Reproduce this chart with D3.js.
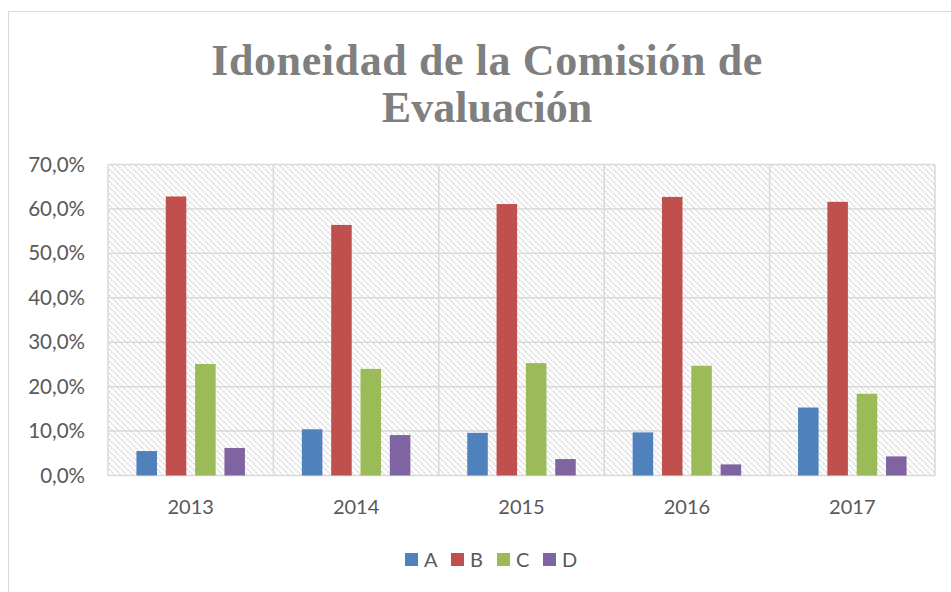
<!DOCTYPE html>
<html>
<head>
<meta charset="utf-8">
<script src="https://cdn.jsdelivr.net/npm/d3@7"></script>
<style>
body{margin:0;background:#fff;}
</style>
</head>
<body>
<script>
var years = ['2013','2014','2015','2016','2017'];
var seriesNames = ['A','B','C','D'];
var valuesA = [5.5, 10.4, 9.6, 9.7, 15.3];
var valuesB = [62.8, 56.4, 61.1, 62.7, 61.6];
var valuesC = [25.1, 24.0, 25.3, 24.7, 18.4];
var valuesD = [6.2, 9.1, 3.7, 2.5, 4.3];
var yTicks = [0,10,20,30,40,50,60,70];
var colors = ['#4f81bd','#c0504d','#9bbb59','#8064a2'];

var allValues = [valuesA, valuesB, valuesC, valuesD];

var svg = d3.select("body").append("svg").attr("width",951).attr("height",592);

var defs = svg.append("defs");
var pat = defs.append("pattern")
  .attr("id","hatch")
  .attr("patternUnits","userSpaceOnUse")
  .attr("width",6).attr("height",6);
pat.append("rect").attr("width",6).attr("height",6).attr("fill","#fff");
pat.append("path")
  .attr("d","M-1,-1 L7,7 M-1,5 L1,7 M5,-1 L7,1")
  .attr("stroke","#d6d6d6")
  .attr("stroke-width",1.5)
  .attr("stroke-dasharray","2,1");

// chart frame
svg.append("rect")
  .attr("x",8.5).attr("y",11.5)
  .attr("width",980).attr("height",620)
  .attr("fill","#fff")
  .attr("stroke","#d9d9d9");

var plotLeft = 108, plotRight = 935, plotTop = 164.5, plotBottom = 475.5;

var x = d3.scaleBand().domain(years).range([plotLeft,plotRight]);
var xs = d3.scaleBand().domain(seriesNames).range([0, x.bandwidth()])
  .paddingInner(0.3).paddingOuter(0.97);
var y = d3.scaleLinear().domain([0,70]).range([plotBottom,plotTop]);

// title
var title = svg.append("text")
  .attr("text-anchor","middle")
  .attr("fill","#7f7f7f")
  .attr("font-family","'Liberation Serif', serif")
  .attr("font-weight","bold")
  .attr("font-size",44);
title.append("tspan").attr("x",487).attr("y",75).attr("letter-spacing",0.6).text("Idoneidad de la Comisión de");
title.append("tspan").attr("x",487).attr("y",122).text("Evaluación");

// plot background
svg.append("rect")
  .attr("x",plotLeft).attr("y",plotTop)
  .attr("width",plotRight-plotLeft).attr("height",plotBottom-plotTop)
  .attr("fill","url(#hatch)");

// horizontal gridlines
svg.append("g").selectAll("line")
  .data(yTicks)
  .enter().append("line")
    .attr("x1",plotLeft).attr("x2",plotRight)
    .attr("y1",function(d){ return y(d); })
    .attr("y2",function(d){ return y(d); })
    .attr("stroke","#d9d9d9")
    .attr("stroke-width",1.5);

// vertical category separators
var bounds = years.map(function(d){ return x(d); }).concat([plotRight]);
svg.append("g").selectAll("line")
  .data(bounds)
  .enter().append("line")
    .attr("x1",function(d){ return d; }).attr("x2",function(d){ return d; })
    .attr("y1",plotTop).attr("y2",plotBottom)
    .attr("stroke","#d9d9d9")
    .attr("stroke-width",1.5);

// bars
var groups = svg.append("g").selectAll("g")
  .data(seriesNames)
  .enter().append("g")
    .attr("fill",function(d,i){ return colors[i]; });

groups.selectAll("rect")
  .data(function(d,i){ return allValues[i].map(function(v,j){ return {s:d, year:years[j], v:v}; }); })
  .enter().append("rect")
    .attr("x",function(d){ return x(d.year) + xs(d.s); })
    .attr("width",xs.bandwidth())
    .attr("y",function(d){ return y(d.v); })
    .attr("height",function(d){ return plotBottom - y(d.v); });

// axes
var yAxis = d3.axisLeft(y).tickValues(yTicks).tickSize(0).tickPadding(0)
  .tickFormat(function(d){ return d3.format(".1f")(d).replace(".",",") + "%"; });
var gy = svg.append("g").attr("transform","translate(85,0)").call(yAxis);
gy.select(".domain").remove();
gy.selectAll("text")
  .attr("fill","#595959")
  .attr("font-family","Lato, sans-serif")
  .attr("font-size",20.5);

var xAxis = d3.axisBottom(x).tickSize(0).tickPadding(24);
var gx = svg.append("g").attr("transform","translate(0,"+plotBottom+")").call(xAxis);
gx.select(".domain").remove();
gx.selectAll("text")
  .attr("fill","#595959")
  .attr("font-family","Lato, sans-serif")
  .attr("font-size",20);

// legend
var legend = svg.append("g").selectAll("g")
  .data(seriesNames)
  .enter().append("g")
    .attr("transform",function(d,i){ return "translate(" + (405 + i*46) + ",553)"; });
legend.append("rect")
  .attr("width",13).attr("height",13)
  .attr("fill",function(d,i){ return colors[i]; });
legend.append("text")
  .attr("x",19).attr("y",14)
  .attr("fill","#595959")
  .attr("font-family","Lato, sans-serif")
  .attr("font-size",20)
  .text(function(d){ return d; });
</script>
</body>
</html>
